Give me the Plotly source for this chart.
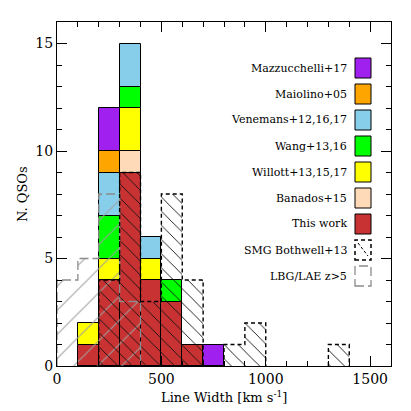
import plotly.graph_objects as go

# ---------------- data ----------------
bin_edges = [0, 100, 200, 300, 400, 500, 600, 700, 800, 900, 1000,
             1100, 1200, 1300, 1400, 1500, 1600]
bin_centers = [50, 150, 250, 350, 450, 550, 650, 750, 850, 950, 1050,
               1150, 1250, 1350, 1450, 1550]

# QSO samples (first 8 bins: 0-800 km/s), stacked bottom -> top
this_work    = [0, 1, 4, 9, 4, 3, 1, 0]
banados      = [0, 0, 0, 1, 0, 0, 0, 0]
willott      = [0, 1, 1, 2, 1, 0, 0, 0]
wang         = [0, 0, 2, 1, 0, 1, 0, 0]
venemans     = [0, 0, 2, 2, 1, 0, 0, 0]
maiolino     = [0, 0, 1, 0, 0, 0, 0, 0]
mazzucchelli = [0, 0, 2, 0, 0, 0, 0, 1]

# comparison samples (16 bins: 0-1600 km/s)
smg_bothwell = [0, 0, 4, 9, 3, 8, 4, 0, 1, 2, 0, 0, 0, 1, 0, 0]
lbg_lae      = [4, 5, 8, 3, 0, 0, 0, 0, 0, 0, 0, 0, 0, 0, 0, 0]

qso_series = [
    ("This work", this_work, "#C83232"),
    ("Banados+15", banados, "#FFDAB9"),
    ("Willott+13,15,17", willott, "#FFFF00"),
    ("Wang+13,16", wang, "#00FF00"),
    ("Venemans+12,16,17", venemans, "#87CEEB"),
    ("Maiolino+05", maiolino, "#FFA500"),
    ("Mazzucchelli+17", mazzucchelli, "#A020F0"),
]

FONT = "DejaVu Serif"
W, H = 411, 411
ML, MR, MT, MB = 57, 20, 22, 45

fig = go.Figure()

# stacked QSO bars with explicit bases
base = [0] * len(this_work)
for name, vals, col in qso_series:
    fig.add_trace(go.Bar(
        x=bin_centers[:len(vals)],
        y=[v if v > 0 else None for v in vals],
        base=base[:],
        width=100,
        marker=dict(color=col, line=dict(color="black", width=1)),
        name=name, showlegend=False, hoverinfo="skip",
    ))
    base = [b + v for b, v in zip(base, vals)]

# hatched comparison histograms (overlay)
def hatch_bar(vals, shape, fg, size, solidity):
    return go.Bar(
        x=bin_centers, y=[v if v > 0 else None for v in vals], base=0, width=100,
        marker=dict(color="rgba(0,0,0,0)", line=dict(width=0),
                    pattern=dict(shape=shape, fgcolor=fg, bgcolor="rgba(0,0,0,0)",
                                 size=size, solidity=solidity, fillmode="replace")),
        showlegend=False, hoverinfo="skip",
    )

fig.add_trace(hatch_bar(lbg_lae, "/", "#a0a0a0", 17, 0.06))
fig.add_trace(hatch_bar(smg_bothwell, "\\", "#111111", 10, 0.09))


def step_outline(edges, counts):
    xs, ys = [], []
    open_ = False
    for i, c in enumerate(counts):
        l, r = edges[i], edges[i + 1]
        if c > 0:
            if not open_:
                xs += [l]; ys += [0]; open_ = True
            xs += [l, r]; ys += [c, c]
        else:
            if open_:
                xs += [l, None]; ys += [0, None]; open_ = False
    if open_:
        xs.append(edges[len(counts)]); ys.append(0)
    return xs, ys

lx, ly = step_outline(bin_edges, lbg_lae)
fig.add_trace(go.Scatter(x=lx, y=ly, mode="lines",
                         line=dict(color="#8c8c8c", width=1.3, dash="9px,4px"),
                         showlegend=False, hoverinfo="skip", connectgaps=False))
sx, sy = step_outline(bin_edges, smg_bothwell)
fig.add_trace(go.Scatter(x=sx, y=sy, mode="lines",
                         line=dict(color="black", width=1.4, dash="4px,3px"),
                         showlegend=False, hoverinfo="skip", connectgaps=False))

# ---------------- manual legend (text left, box right) ----------------
pw, ph = W - ML - MR, H - MT - MB
def px(xp):
    return (xp - ML) / pw
def py(yp):
    return (H - MB - yp) / ph

legend_rows = [
    ("Mazzucchelli+17", "#A020F0"),
    ("Maiolino+05", "#FFA500"),
    ("Venemans+12,16,17", "#87CEEB"),
    ("Wang+13,16", "#00FF00"),
    ("Willott+13,15,17", "#FFFF00"),
    ("Banados+15", "#FFDAB9"),
    ("This work", "#C83232"),
    ("SMG Bothwell+13", "smg"),
    ("LBG/LAE z>5", "lbg"),
]
row_y0, row_dy = 68, 26
box_l, box_r, box_h = 355, 371, 20
shapes, annotations = [], []
for i, (lab, col) in enumerate(legend_rows):
    yc = row_y0 + i * row_dy
    annotations.append(dict(text=lab, x=px(349), y=py(yc), xref="paper", yref="paper",
                            xanchor="right", yanchor="middle", showarrow=False,
                            font=dict(family=FONT, size=11, color="black")))
    if col == "smg":
        shapes.append(dict(type="rect", xref="paper", yref="paper",
                           x0=px(box_l), x1=px(box_r), y0=py(yc + box_h / 2), y1=py(yc - box_h / 2),
                           line=dict(color="black", width=1.5, dash="4px,3px"), fillcolor="rgba(0,0,0,0)"))
        shapes.append(dict(type="line", xref="paper", yref="paper",
                           x0=px(box_l + 3), x1=px(box_r - 3), y0=py(yc - box_h / 2 + 3), y1=py(yc + box_h / 2 - 4),
                           line=dict(color="black", width=1, dash="3px,2px")))
    elif col == "lbg":
        shapes.append(dict(type="rect", xref="paper", yref="paper",
                           x0=px(box_l), x1=px(box_r), y0=py(yc + box_h / 2), y1=py(yc - box_h / 2),
                           line=dict(color="#8c8c8c", width=1.3, dash="9px,4px"), fillcolor="rgba(0,0,0,0)"))
    else:
        shapes.append(dict(type="rect", xref="paper", yref="paper",
                           x0=px(box_l), x1=px(box_r), y0=py(yc + box_h / 2), y1=py(yc - box_h / 2),
                           line=dict(color="black", width=1), fillcolor=col))

# axis titles
annotations.append(dict(text="Line Width [km s<sup>-1</sup>]", x=0.5, y=py(397),
                        xref="paper", yref="paper", xanchor="center", yanchor="middle",
                        showarrow=False, font=dict(family=FONT, size=13, color="black")))
annotations.append(dict(text="N. QSOs", x=px(22), y=0.5, xref="paper", yref="paper",
                        xanchor="center", yanchor="middle", textangle=-90,
                        showarrow=False, font=dict(family=FONT, size=13, color="black")))

axis_common = dict(showline=True, linecolor="black", linewidth=1, mirror="ticks",
                   ticks="inside", ticklen=10, tickwidth=1, tickcolor="black",
                   showgrid=False, zeroline=False,
                   tickfont=dict(family=FONT, size=14, color="black"))

fig.update_layout(
    width=W, height=H, margin=dict(l=ML, r=MR, t=MT, b=MB),
    paper_bgcolor="white", plot_bgcolor="white",
    barmode="overlay", bargap=0, showlegend=False,
    xaxis=dict(range=[0, 1600], dtick=500, tick0=0,
               minor=dict(dtick=100, ticks="inside", ticklen=5, tickcolor="black"),
               **axis_common),
    yaxis=dict(range=[0, 16], dtick=5, tick0=0,
               minor=dict(dtick=1, ticks="inside", ticklen=5, tickcolor="black"),
               **axis_common),
    shapes=shapes, annotations=annotations,
)

fig.write_html("out.html", config={"displayModeBar": False},
               post_script="document.body.style.margin='0px';document.body.style.padding='0px';")
